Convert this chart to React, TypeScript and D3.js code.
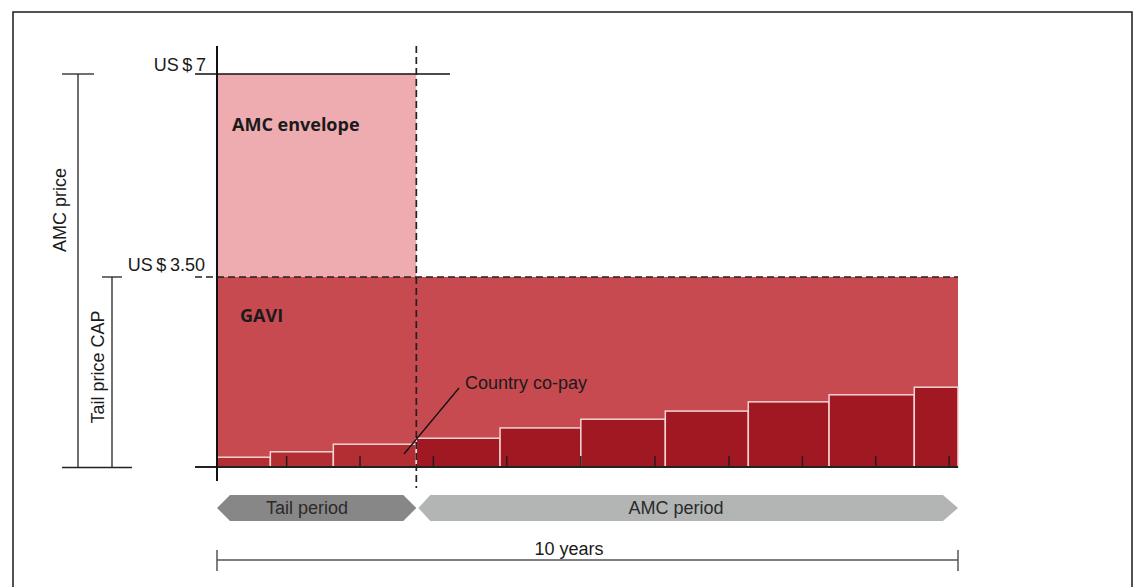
import React from "react";
import * as d3 from "d3";

// schematic of the AMC price structure
const priceLevels = [0, 3.5, 7]; // tail price cap, AMC price
const amcPrice = 7;
const tailCap = 3.5;
const tailEnd = 2.69; // years of the tail period shown as "tail"
const totalYears = 10;
const barEdges = [0, 0.72, 1.57, 2.69, 3.82, 4.91, 6.05, 7.17, 8.26, 9.41, 10];
const copay = [0.18, 0.28, 0.42, 0.53, 0.72, 0.88, 1.03, 1.2, 1.33, 1.47];
const tickYears = [0.94, 1.93, 2.92, 3.91, 4.91, 5.91, 6.91, 7.9, 8.89, 9.88];
const priceLabels = ["US\u2009$\u20097", "US\u2009$\u20093.50"];
const periods = ["Tail period", "AMC period"];

const W = 1136;
const H = 587;
const FONT = "'Liberation Sans Narrow', 'Liberation Sans', Arial, sans-serif";
const BOLD = "'Open Sans', 'Noto Sans', sans-serif";

export default function App() {
  const x = d3.scaleLinear().domain([0, totalYears]).range([217, 958]);
  const y = d3.scaleLinear().domain(priceLevels).range([467, 277, 74]);

  const bars = copay.map((v, i) => ({
    x0: barEdges[i],
    x1: barEdges[i + 1],
    v,
    tail: barEdges[i + 1] <= tailEnd,
  }));

  const y0 = y(0);
  const mid = 508;
  const hh = 13;
  const tailPts: [number, number][] = [
    [x(0), mid],
    [x(0) + 13, mid - hh],
    [x(tailEnd) - 13, mid - hh],
    [x(tailEnd), mid],
    [x(tailEnd) - 13, mid + hh],
    [x(0) + 13, mid + hh],
  ];
  const amcPts: [number, number][] = [
    [x(tailEnd) + 2, mid],
    [x(tailEnd) + 14, mid - hh],
    [x(totalYears) - 15, mid - hh],
    [x(totalYears), mid],
    [x(totalYears) - 15, mid + hh],
    [x(tailEnd) + 14, mid + hh],
  ];
  const poly = d3.line();

  return (
    <svg width={W} height={H} style={{ position: "absolute", left: 0, top: 0 }}>
      <rect x={13} y={12} width={1119} height={600} fill="#fff" stroke="#1a1a1a" strokeWidth={1.5} />

      {/* AMC envelope & GAVI areas */}
      <rect x={x(0)} y={y(amcPrice)} width={x(tailEnd) - x(0)} height={y(tailCap) - y(amcPrice)} fill="#eeacb0" />
      <rect x={x(0)} y={y(tailCap)} width={x(totalYears) - x(0)} height={y0 - y(tailCap)} fill="#c64a50" />

      {/* country co-pay bars */}
      {bars.map((b, i) => (
        <rect
          key={i}
          x={x(b.x0)}
          y={y(b.v)}
          width={x(b.x1) - x(b.x0)}
          height={y0 - y(b.v)}
          fill={b.tail ? "#b22e33" : "#a01822"}
          stroke="#f4d4d4"
          strokeWidth={1.5}
        />
      ))}

      {/* ticks */}
      {tickYears.map((t, i) => (
        <line key={i} x1={x(t)} x2={x(t)} y1={y0 - 11} y2={y0} stroke="#2a1a1a" strokeWidth={1.5} />
      ))}

      {/* axes and reference lines */}
      <line x1={195} x2={x(totalYears)} y1={y0} y2={y0} stroke="#222" strokeWidth={2} />
      <line x1={x(0)} x2={x(0)} y1={46} y2={481} stroke="#111" strokeWidth={2} />
      <line x1={195} x2={450} y1={y(amcPrice)} y2={y(amcPrice)} stroke="#111" strokeWidth={1.5} />
      <line x1={195} x2={x(totalYears)} y1={y(tailCap)} y2={y(tailCap)} stroke="#222" strokeWidth={1.7} strokeDasharray="7,4" />
      <line x1={x(tailEnd)} x2={x(tailEnd)} y1={46} y2={488} stroke="#222" strokeWidth={1.7} strokeDasharray="7,4" />

      {/* price labels */}
      <text x={206} y={y(amcPrice) - 3} textAnchor="end" fontFamily={FONT} fontSize={18} fill="#1a1a1a">{priceLabels[0]}</text>
      <text x={205} y={y(tailCap) - 6} textAnchor="end" fontFamily={FONT} fontSize={18} fill="#1a1a1a">{priceLabels[1]}</text>

      {/* brackets on the left */}
      <line x1={78} x2={78} y1={y(amcPrice)} y2={y0} stroke="#222" strokeWidth={1.3} />
      <line x1={62} x2={94} y1={y(amcPrice)} y2={y(amcPrice)} stroke="#222" strokeWidth={1.3} />
      <line x1={62} x2={132} y1={y0 + 0.5} y2={y0 + 0.5} stroke="#222" strokeWidth={1.3} />
      <line x1={112} x2={112} y1={y(tailCap)} y2={y0} stroke="#222" strokeWidth={1.3} />
      <line x1={102} x2={122} y1={y(tailCap)} y2={y(tailCap)} stroke="#222" strokeWidth={1.3} />
      <text transform="translate(66,210) rotate(-90)" textAnchor="middle" fontFamily={FONT} fontSize={18} fill="#1a1a1a">AMC price</text>
      <text transform="translate(104,367) rotate(-90)" textAnchor="middle" fontFamily={FONT} fontSize={18} fill="#1a1a1a">Tail price CAP</text>

      {/* area labels */}
      <text x={232} y={131} fontFamily={BOLD} fontWeight="bold" fontSize={18} fill="#1a1a1a">AMC envelope</text>
      <text x={240} y={322} fontFamily={BOLD} fontWeight="bold" fontSize={18} fill="#1a1a1a">GAVI</text>

      {/* co-pay annotation */}
      <line x1={404} x2={459} y1={454} y2={388} stroke="#111" strokeWidth={1.3} />
      <text x={465} y={389} fontFamily={FONT} fontSize={18} fill="#1a1a1a">Country co-pay</text>

      {/* period arrows */}
      <path d={poly(tailPts) + "Z"} fill="#878787" />
      <path d={poly(amcPts) + "Z"} fill="#b3b5b4" />
      <text x={307} y={mid + 6} textAnchor="middle" fontFamily={FONT} fontSize={18} fill="#2a2a2a">{periods[0]}</text>
      <text x={676} y={mid + 6} textAnchor="middle" fontFamily={FONT} fontSize={18} fill="#2a2a2a">{periods[1]}</text>

      {/* 10 years bracket */}
      <line x1={x(0)} x2={x(totalYears)} y1={560} y2={560} stroke="#555" strokeWidth={1.5} />
      <line x1={x(0)} x2={x(0)} y1={550} y2={571} stroke="#555" strokeWidth={1.5} />
      <line x1={x(totalYears)} x2={x(totalYears)} y1={550} y2={571} stroke="#555" strokeWidth={1.5} />
      <text x={569} y={555} textAnchor="middle" fontFamily={FONT} fontSize={18} fill="#1a1a1a">10 years</text>
    </svg>
  );
}
